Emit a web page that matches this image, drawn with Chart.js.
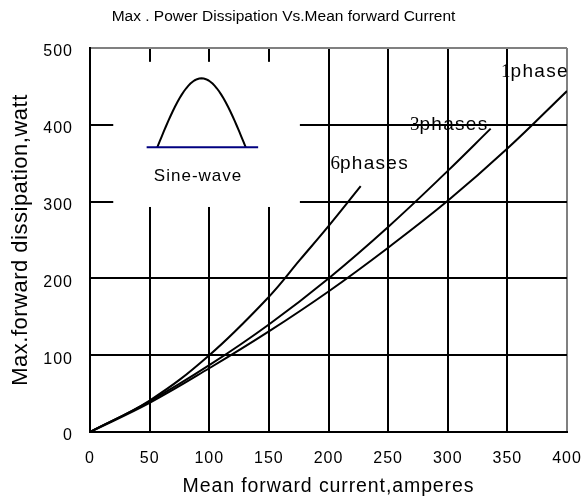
<!DOCTYPE html>
<html>
<head>
<meta charset="utf-8">
<script src="https://cdn.jsdelivr.net/npm/chart.js@4/dist/chart.umd.min.js"></script>
<style>
html,body{margin:0;padding:0;background:#fff;}
#wrap{width:587px;height:501px;position:relative;}
</style>
</head>
<body>
<div id="wrap"><canvas id="c" width="587" height="501"></canvas></div>
<script>
// ---- text ----
const chartTitle = 'Max . Power Dissipation Vs.Mean forward Current';
const xAxisTitle = 'Mean forward current,amperes';
const yAxisTitle = 'Max.forward dissipation,watt';
const insetLabel = 'Sine-wave';
const seriesNames = ['1phase', '3phases', '6phases'];

// ---- ticks ----
const xTickValues = [0, 50, 100, 150, 200, 250, 300, 350, 400];
const yTickValues = [0, 100, 200, 300, 400, 500];

// ---- series ----
const onePhaseX   = [0, 50, 100, 150, 200, 250, 300, 350, 400];
const onePhaseY   = [0, 38,  83, 131, 183, 240, 301, 369, 444];
const threePhaseX = [0, 50, 100, 150, 200, 250, 300, 336];
const threePhaseY = [0, 40,  87, 140, 200, 267, 340, 395];
const sixPhaseX   = [0, 50, 100, 150, 176, 200, 227];
const sixPhaseY   = [0, 41, 100, 176, 224, 268, 320];

const toPoints = (xs, ys) => xs.map((v, i) => ({x: v, y: ys[i]}));

// ---- annotation placement (data units) ----
const curveLabelAnchors = [
  {x: 344.7, y: 462},
  {x: 268.3, y: 393},
  {x: 201.6, y: 342}
];
const insetBox = {x0: 19.5, x1: 176, y0: 293, y1: 482};
const insetBase = {x0: 47.5, x1: 141, y: 370.7};
const insetWave = {x0: 56.4, x1: 130.6, peak: 460.5};
const insetText = {x: 90.6, y: 332.5};

const SANS = '"Liberation Sans", Arial, sans-serif';
const SERIF = '"Liberation Serif", "Times New Roman", serif';

function patchSpacing(obj, method, spacing) {
  const orig = obj[method];
  obj[method] = function (...args) {
    const ctx = this.ctx;
    const prev = ctx.letterSpacing;
    ctx.letterSpacing = spacing;
    try { return orig.apply(this, args); } finally { ctx.letterSpacing = prev; }
  };
}

const spacingPlugin = {
  id: 'spacing',
  beforeDraw(chart) {
    const sx = chart.scales.x, sy = chart.scales.y;
    if (!sx._spaced) {
      patchSpacing(sx, 'drawLabels', '1px');
      patchSpacing(sx, 'drawTitle', '0.9px');
      sx._spaced = true;
    }
    if (!sy._spaced) {
      patchSpacing(sy, 'drawLabels', '1px');
      patchSpacing(sy, 'drawTitle', '0.5px');
      sy._spaced = true;
    }
  }
};

const overlayPlugin = {
  id: 'overlay',
  beforeDatasetsDraw(chart) {
    const {ctx} = chart;
    const x = chart.scales.x, y = chart.scales.y;
    ctx.save();
    // white inset panel hiding the grid
    const l = x.getPixelForValue(insetBox.x0), r = x.getPixelForValue(insetBox.x1);
    const t = y.getPixelForValue(insetBox.y1), b = y.getPixelForValue(insetBox.y0);
    ctx.fillStyle = '#ffffff';
    ctx.fillRect(l, t, r - l, b - t);
    // half sine wave icon
    const by = y.getPixelForValue(insetBase.y);
    const py = y.getPixelForValue(insetWave.peak);
    const wx0 = x.getPixelForValue(insetWave.x0), wx1 = x.getPixelForValue(insetWave.x1);
    ctx.beginPath();
    const n = 40;
    for (let i = 0; i <= n; i++) {
      const f = i / n;
      const px = wx0 + (wx1 - wx0) * f;
      const pyy = by - (by - py) * Math.sin(Math.PI * f);
      if (i === 0) ctx.moveTo(px, pyy); else ctx.lineTo(px, pyy);
    }
    ctx.strokeStyle = '#000000';
    ctx.lineWidth = 2;
    ctx.stroke();
    // baseline
    ctx.beginPath();
    ctx.moveTo(x.getPixelForValue(insetBase.x0), by);
    ctx.lineTo(x.getPixelForValue(insetBase.x1), by);
    ctx.strokeStyle = '#000080';
    ctx.lineWidth = 2;
    ctx.stroke();
    // label
    ctx.font = '17px ' + SANS;
    ctx.letterSpacing = '1px';
    ctx.fillStyle = '#000';
    ctx.textAlign = 'center';
    ctx.textBaseline = 'middle';
    ctx.fillText(insetLabel, x.getPixelForValue(insetText.x), y.getPixelForValue(insetText.y));
    ctx.restore();
  },
  afterDatasetsDraw(chart) {
    const {ctx} = chart;
    const x = chart.scales.x, y = chart.scales.y;
    ctx.save();
    ctx.fillStyle = '#000';
    ctx.textAlign = 'left';
    ctx.textBaseline = 'alphabetic';
    seriesNames.forEach((name, i) => {
      const a = curveLabelAnchors[i];
      let px = x.getPixelForValue(a.x);
      const py = y.getPixelForValue(a.y);
      const digit = name.charAt(0), rest = name.slice(1);
      ctx.letterSpacing = '0px';
      ctx.font = '19px ' + SERIF;
      ctx.fillText(digit, px, py);
      px += ctx.measureText(digit).width;
      ctx.font = '19px ' + SANS;
      ctx.letterSpacing = '1.3px';
      ctx.fillText(rest, px, py);
    });
    ctx.restore();
  }
};

const lineStyle = {
  borderColor: '#000000',
  borderWidth: 2,
  pointRadius: 0,
  fill: false,
  tension: 0.4
};

new Chart(document.getElementById('c'), {
  type: 'line',
  data: {
    datasets: [
      Object.assign({label: seriesNames[0], data: toPoints(onePhaseX, onePhaseY)}, lineStyle),
      Object.assign({label: seriesNames[1], data: toPoints(threePhaseX, threePhaseY)}, lineStyle),
      Object.assign({label: seriesNames[2], data: toPoints(sixPhaseX, sixPhaseY)}, lineStyle)
    ]
  },
  options: {
    responsive: false,
    devicePixelRatio: 1,
    animation: false,
    layout: {padding: {left: 0, right: 20, top: 0, bottom: 0}},
    plugins: {
      legend: {display: false},
      tooltip: {enabled: false},
      title: {
        display: true,
        text: chartTitle,
        color: '#000',
        font: {family: SANS, size: 15.5, weight: 'normal', lineHeight: 1.2},
        padding: {top: 7, bottom: 22.4}
      }
    },
    scales: {
      x: {
        type: 'linear',
        min: 0, max: 400,
        afterBuildTicks: (s) => { s.ticks = xTickValues.map(v => ({value: v})); },
        afterFit: (s) => { s.height = 69; s.paddingLeft = 0; s.paddingRight = 0; },
        ticks: {color: '#000', padding: 17, font: {family: SANS, size: 16}, maxRotation: 0},
        grid: {
          color: (c) => (c.tick && c.tick.value === 400 ? '#808080' : '#000000'),
          lineWidth: 2,
          drawTicks: false
        },
        border: {color: '#000', width: 2},
        title: {
          display: true, text: xAxisTitle, color: '#000',
          font: {family: SANS, size: 19.5, lineHeight: 1.2},
          padding: {top: 0, bottom: 2.6}
        }
      },
      y: {
        type: 'linear',
        min: 0, max: 500,
        afterBuildTicks: (s) => { s.ticks = yTickValues.map(v => ({value: v})); },
        afterFit: (s) => { s.width = 90; s.paddingTop = 0; s.paddingBottom = 0; },
        ticks: {color: '#000', padding: 17, labelOffset: 4, font: {family: SANS, size: 16}},
        grid: {
          color: (c) => (c.tick && c.tick.value === 500 ? '#808080' : '#000000'),
          lineWidth: 2,
          drawTicks: false
        },
        border: {color: '#000', width: 2},
        title: {
          display: true, text: yAxisTitle, color: '#000',
          font: {family: SANS, size: 22, lineHeight: 1.2},
          padding: {top: 7.5, bottom: 0}
        }
      }
    }
  },
  plugins: [spacingPlugin, overlayPlugin]
});
</script>
</body>
</html>
